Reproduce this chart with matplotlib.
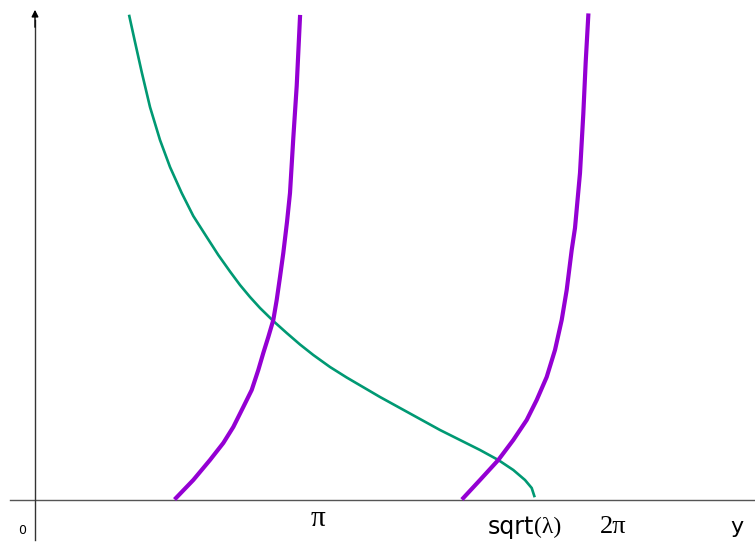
import matplotlib.pyplot as plt

# courbe violette, branche 1 (x, y) en unités du dessin
p1_x = [141, 158.3, 175, 188.3, 198.3, 208.3, 216.7, 223.3, 228.3, 233.3, 238.3, 241.7,
        245, 248.3, 252, 255, 258.3, 261.7, 265]
p1_y = [2, 20, 40, 57, 73, 93, 110, 130, 147, 163, 180, 200,
        223, 247, 278, 307, 362, 414, 483]

# courbe violette, branche 2
p2_x = [428.3, 445, 463.3, 478.3, 491.7, 501.7, 511.7, 520, 526.7, 531.7, 536.7, 540,
        545, 548.3, 550.7, 553.3]
p2_y = [2, 20, 40, 60, 80, 100, 123, 150, 180, 210, 250, 272,
        327, 386, 438, 484.5]

# courbe verte
g_x = [94.3, 100, 106.7, 115, 125, 135, 146.7, 158.3, 171.7, 183.3, 195, 205, 215, 225,
       238.3, 251.7, 265, 278.3, 295, 311.7, 345, 385, 405, 425, 445, 463.3, 478.3, 490,
       496.7, 499.3]
g_y = [484, 458, 428, 393, 360, 333, 307, 284, 263, 245, 228.5, 215, 203, 192,
       179, 167, 155.5, 145, 133, 122.5, 103, 81, 70, 60, 50, 40, 30, 20,
       12, 4]

fig = plt.figure(figsize=(7.55, 5.43), dpi=100)
ax = fig.add_axes([0, 0, 1, 1])
ax.set_xlim(-35, 720)
ax.set_ylim(-43, 500)
ax.axis("off")

# axes du repère
ax.plot([-25, 720], [0, 0], color="#555555", lw=1)
ax.plot([0, 0], [-40, 480], color="#333333", lw=1)
ax.annotate("", xy=(0, 493), xytext=(0, 470),
            arrowprops=dict(arrowstyle="-|>", color="black", lw=1, mutation_scale=10))

ax.plot(g_x, g_y, color="#009973", lw=1.9, solid_joinstyle="round")
ax.plot(p1_x, p1_y, color="#9400D3", lw=3, solid_joinstyle="round")
ax.plot(p2_x, p2_y, color="#9400D3", lw=3, solid_joinstyle="round")

serif = "Liberation Serif"
ax.text(-13, -30, "0", fontsize=9, ha="center", va="center")
ax.text(283, -19, "π", fontsize=21, ha="center", va="center", family=serif)
ax.text(453, -27, "sqrt", fontsize=17, ha="left", va="center")
ax.text(499, -27, "(λ)", fontsize=17, ha="left", va="center", family=serif)
ax.text(578, -27, "2π", fontsize=19, ha="center", va="center", family=serif)
ax.text(702, -27, "y", fontsize=16, ha="center", va="center")

fig.savefig("out.png", dpi=100)
